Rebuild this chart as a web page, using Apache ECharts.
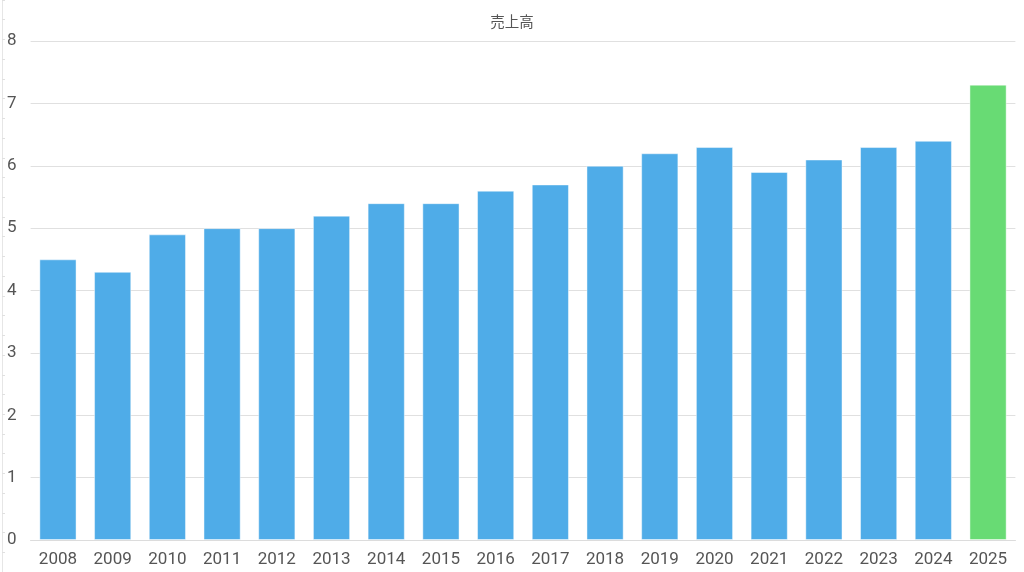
<!DOCTYPE html>
<html><head><meta charset="utf-8">
<script src="https://cdn.jsdelivr.net/npm/echarts@6/dist/echarts.min.js"></script>
<style>html,body{margin:0;padding:0;background:#fff}#c{width:1024px;height:572px}</style>
</head><body><div id="c"></div>
<script>
const title = '売上高';
const categories = ['2008','2009','2010','2011','2012','2013','2014','2015','2016','2017','2018','2019','2020','2021','2022','2023','2024','2025'];
const values = [4.5,4.3,4.9,5.0,5.0,5.2,5.4,5.4,5.6,5.7,6.0,6.2,6.3,5.9,6.1,6.3,6.4,7.3];
const yTicks = [0,1,2,3,4,5,6,7,8];

const BLUE = '#4FACE8', GREEN = '#68DB74';
const chart = echarts.init(document.getElementById('c'), null, {renderer:'canvas'});
const font = 'Roboto, sans-serif';
chart.setOption({
  animation:false,
  title:{text:title,left:'center',top:9,textStyle:{fontSize:14.5,fontWeight:'normal',color:'#555',fontFamily:'"Noto Sans CJK JP", sans-serif'}},
  grid:[
    {left:30.6,right:8.6,top:41,bottom:32},
    {left:2,width:1,top:-22.5,height:604.2}
  ],
  xAxis:[
    {type:'category',data:categories,gridIndex:0,
      axisLine:{lineStyle:{color:'#dcdcdc',width:1}},axisTick:{show:false},
      axisLabel:{color:'#555',fontSize:17,fontFamily:font,margin:11}},
    {type:'value',gridIndex:1,show:false}
  ],
  yAxis:[
    {type:'value',gridIndex:0,min:yTicks[0],max:yTicks[yTicks.length-1],interval:1,
      axisLine:{show:false},axisTick:{show:false},
      axisLabel:{color:'#555',fontSize:17,fontFamily:font,margin:14},
      splitLine:{lineStyle:{color:'#e0e0e0',width:1}}},
    {type:'value',gridIndex:1,min:-2/3,max:9,interval:1/3,position:'left',
      axisLine:{show:true,onZero:false,lineStyle:{color:'#e6e6e6'}},
      axisTick:{show:true,inside:true,length:3,lineStyle:{color:'#e0e0e0'}},
      axisLabel:{show:false},splitLine:{show:false}}
  ],
  series:[{
    type:'bar',xAxisIndex:0,yAxisIndex:0,barCategoryGap:'32%',
    data:values.map((v,i)=>({value:v,itemStyle:{color:i===values.length-1?GREEN:BLUE}})),
    itemStyle:{borderColor:'rgba(255,255,255,0.45)',borderWidth:1}
  }]
});
</script></body></html>
